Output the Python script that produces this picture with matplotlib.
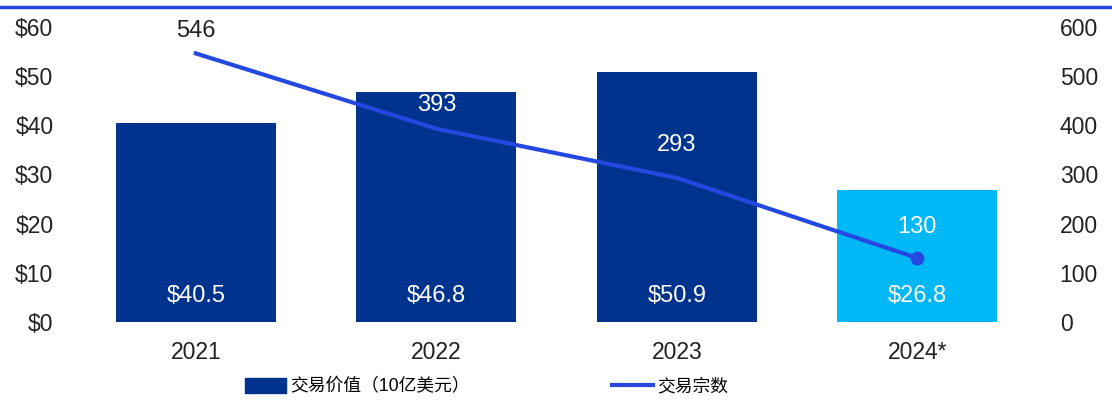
import matplotlib
matplotlib.use('Agg')
import matplotlib.pyplot as plt
from matplotlib.lines import Line2D
from matplotlib.patches import Patch

plt.rcParams['font.family'] = ['Liberation Sans', 'Noto Sans CJK SC', 'DejaVu Sans']

years = ['2021', '2022', '2023', '2024*']
deal_value = [40.5, 46.8, 50.9, 26.8]
deal_count = [546, 393, 293, 130]
value_labels = ['$40.5', '$46.8', '$50.9', '$26.8']

dark = '#00338d'
light = '#00b8f5'
line_c = '#2549e0'
fs = 16.5

fig = plt.figure(figsize=(11.12, 4.01), dpi=100)
ax = fig.add_axes([0.068, 0.197, 0.865, 0.736])
x = list(range(len(years)))
colors = [dark, dark, dark, light]
ax.bar(x, deal_value, width=0.665, color=colors, zorder=1)
ax.set_ylim(0, 60)
ax.set_xlim(-0.5, 3.5)
ax.set_yticks(range(0, 61, 10))
ax.set_yticklabels(['$' + str(v) for v in range(0, 61, 10)])
ax.set_xticks(x)
ax.set_xticklabels(years)
ax.tick_params(length=0, labelsize=fs, colors='#222222')
ax.tick_params(axis='x', pad=14)
ax.tick_params(axis='y', pad=16)
for s in ax.spines.values():
    s.set_visible(False)
for i, lab in enumerate(value_labels):
    ax.text(i, 5.2, lab, ha='center', va='center', color='white', fontsize=fs + 0.5)

ax2 = ax.twinx()
ax2.set_ylim(0, 600)
ax2.plot(x, deal_count, color=line_c, lw=3, zorder=3)
ax2.plot([x[-1]], [deal_count[-1]], 'o', color=line_c, ms=9, zorder=4)
ax2.set_yticks(range(0, 601, 100))
ax2.tick_params(length=0, labelsize=fs, colors='#222222', pad=16)
for s in ax2.spines.values():
    s.set_visible(False)
offsets = [46, 48, 66, 64]
for i, v in enumerate(deal_count):
    c = '#222222' if i == 0 else 'white'
    ax2.text(i, v + offsets[i], str(v), ha='center', va='center', color=c, fontsize=fs + 0.5)

fig.add_artist(Line2D([0, 1], [0.982, 0.982], color=line_c, lw=2.5, transform=fig.transFigure))

handles = [Patch(color=dark), Line2D([0], [0], color=line_c, lw=3)]
fig.legend(handles, ['交易价值（10亿美元）', '交易宗数'], loc='center left', bbox_to_anchor=(0.206, 0.036),
           ncol=2, frameon=False, fontsize=12.8, columnspacing=8.0, handlelength=2.3, handleheight=0.9,
           handletextpad=0.25)

fig.savefig('out.png', dpi=100)
